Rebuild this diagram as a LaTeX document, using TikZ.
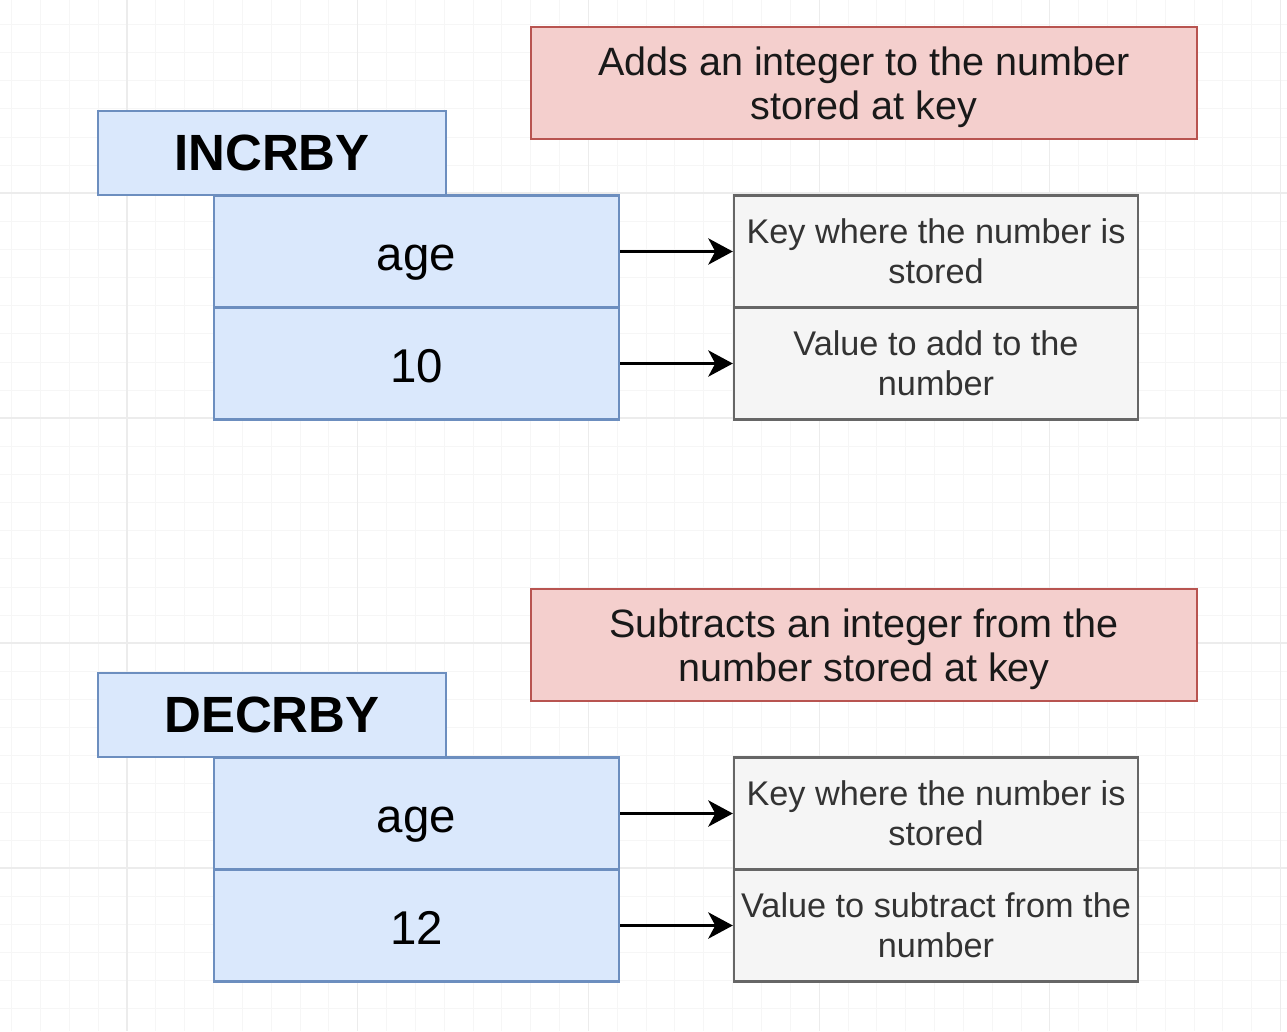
\documentclass[tikz,border=0pt]{standalone}
\usepackage{fontspec}
\setmainfont{Liberation Sans}
\usetikzlibrary{arrows.meta}

\definecolor{cmdfill}{HTML}{DAE8FC}
\definecolor{cmdline}{HTML}{6C8EBF}
\definecolor{notefill}{HTML}{F4CFCD}
\definecolor{noteline}{HTML}{B85450}
\definecolor{descfill}{HTML}{F5F5F5}
\definecolor{descline}{HTML}{666666}
\definecolor{gridminor}{HTML}{F6F6F6}
\definecolor{gridmajor}{HTML}{ECECEC}

\tikzset{
  cell/.style={rectangle, line width=1.4pt, inner sep=0pt, align=center},
  cmdbox/.style={cell, fill=cmdfill, draw=cmdline, minimum width=6.96cm, minimum height=1.68cm,
    font=\fontsize{29}{34}\selectfont\bfseries},
  argbox/.style={cell, fill=cmdfill, draw=cmdline, minimum width=8.1cm, minimum height=2.24cm,
    text height=22pt, text depth=0pt, font=\fontsize{27}{32}\selectfont},
  descbox/.style={cell, fill=descfill, draw=descline, minimum width=8.08cm, minimum height=2.24cm,
    text=black!80, font=\fontsize{19.5}{22.7}\selectfont},
  notebox/.style={cell, fill=notefill, draw=noteline, minimum width=13.32cm, minimum height=2.24cm,
    text depth=0pt, text=black!90, font=\fontsize{22.5}{25}\selectfont},
  pointer/.style={line width=1.5pt, -{Stealth[length=14pt, width=15pt, inset=4pt]}}
}

\begin{document}
\begin{tikzpicture}[x=0.02cm, y=-0.02cm]
\def\xcmd{272};
\def\xarg{416.5};
\def\xdesc{936};
\def\xnote{864};

\def\ytop{0};
\def\ybot{562};

\useasboundingbox (0,0) rectangle (1287,1031);
\fill[white] (0,0) rectangle (1287,1031);

% background grid
\foreach \i in {0,...,44} {
  \draw[gridminor, line width=0.5pt] (11.6+\i*28.84, 0) -- (11.6+\i*28.84, 1031);
}
\foreach \j in {0,...,36} {
  \draw[gridminor, line width=0.5pt] (0, 24.5+\j*28.125) -- (1287, 24.5+\j*28.125);
}
\foreach \i in {0,...,5} {
  \draw[gridmajor, line width=0.6pt] (127+\i*230.7, 0) -- (127+\i*230.7, 1031);
}
\foreach \j in {0,...,4} {
  \draw[gridmajor, line width=0.6pt] (0, 193+\j*225) -- (1287, 193+\j*225);
}

% INCRBY
\node[notebox] (incrnote) at (\xnote, \ytop+83) {Adds an integer to the number\\stored at key};
\node[cmdbox] (incr) at (\xcmd, \ytop+153) {INCRBY};
\node[argbox] (incrkey) at (\xarg, \ytop+251.5) {age};
\node[argbox] (incrval) at (\xarg, \ytop+363.5) {10};
\node[descbox] (incrkeydesc) at (\xdesc, \ytop+251.5) {Key where the number is\\stored};
\node[descbox] (incrvaldesc) at (\xdesc, \ytop+363.5) {Value to add to the\\number};

\draw[pointer] (incrkey.east) -- (incrkeydesc.west);
\draw[pointer] (incrval.east) -- (incrvaldesc.west);

% DECRBY
\node[notebox] (decrnote) at (\xnote, \ybot+83) {Subtracts an integer from the\\number stored at key};
\node[cmdbox] (decr) at (\xcmd, \ybot+153) {DECRBY};
\node[argbox] (decrkey) at (\xarg, \ybot+251.5) {age};
\node[argbox] (decrval) at (\xarg, \ybot+363.5) {12};
\node[descbox] (decrkeydesc) at (\xdesc, \ybot+251.5) {Key where the number is\\stored};
\node[descbox] (decrvaldesc) at (\xdesc, \ybot+363.5) {Value to subtract from the\\number};

\draw[pointer] (decrkey.east) -- (decrkeydesc.west);
\draw[pointer] (decrval.east) -- (decrvaldesc.west);

\end{tikzpicture}
\end{document}
